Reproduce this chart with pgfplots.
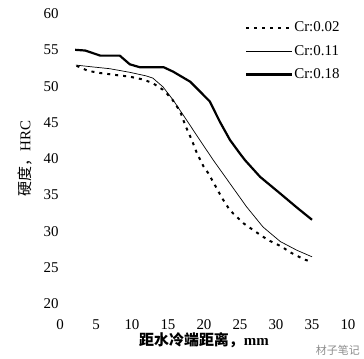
\documentclass[border=0pt]{standalone}
\usepackage{fontspec}
\setmainfont{Liberation Serif}
\newfontfamily\cjk{Noto Sans CJK SC}
\usepackage{pgfplots}
\pgfplotsset{compat=1.18}
\begin{document}
\begin{tikzpicture}
\begin{axis}[
  scale only axis, width=288bp, height=290.5bp,
  xmin=0, xmax=40, ymin=20, ymax=60,
  axis line style={draw=none},
  major tick length=0pt,
  xtick={0,5,10,15,20,25,30,35,40},
  xticklabels={0,5,10,15,20,25,30,35,10},
  ytick={20,25,30,35,40,45,50,55,60},
  /pgf/number format/assume math mode=true,
  tick label style={font=\fontsize{15}{15}\selectfont},
  xticklabel style={yshift=-12bp},
  yticklabel style={xshift=2bp},
  xlabel={{\cjk\bfseries 距水冷端距离，}\textbf{mm}},
  xlabel style={at={(axis description cs:0.5,-0.124)}, anchor=center, font=\fontsize{15}{15}\selectfont},
  ylabel={{\cjk 硬度，}HRC},
  ylabel style={at={(axis description cs:-0.122,0.5)}, anchor=center, font=\fontsize{15}{15}\selectfont},
  clip=false,
  legend style={at={(axis description cs:0.642,0.975)}, anchor=north west, draw=none, fill=none,
    inner sep=0pt, row sep=10bp, font=\fontsize{15}{15}\selectfont, nodes={inner sep=1bp}},
  legend cell align=left,
  legend image code/.code={\draw[#1] (0bp,0bp) -- (46bp,0bp);},
]
\addplot[black, line width=2bp, dash pattern=on 3bp off 5bp] coordinates {
(2.3,52.8) (3.9,52.1) (5.6,51.8) (8,51.5) (9.7,51.3) (11.6,50.9) (12.9,50.4) (14.3,49.5) (15.5,48.3) (16.7,46.5) (17.4,44.6) (18.3,42.6) (19,40.8) (19.9,39.0) (20.6,38.0) (21.5,36.4) (22.5,34.6) (23.6,32.9) (25.5,31.1) (27.1,30.0) (28.9,28.8) (30.6,28.0) (32.2,27.0) (34,26.1) (35,25.8)
};
\addlegendentry{Cr:0.02}
\addplot[black, line width=0.7bp] coordinates {
(2.2,52.9) (4,52.7) (6.9,52.4) (9.7,51.9) (12,51.4) (12.9,51.1) (14.3,49.9) (15.7,48.1) (17.6,45.3) (19.4,42.6) (21.3,39.8) (23.6,36.6) (25.9,33.4) (28.2,30.6) (30.6,28.6) (32.9,27.4) (35,26.5)
};
\addlegendentry{Cr:0.11}
\addplot[black, line width=2.2bp] coordinates {
(2.1,55.0) (3.5,54.9) (5.6,54.2) (8.3,54.2) (9.7,53.0) (11.1,52.6) (12,52.6) (14.4,52.6) (15.7,52.0) (18.1,50.6) (20.8,47.9) (22.2,45.1) (23.6,42.6) (25,40.7) (25.7,39.8) (27.8,37.5) (30.6,35.2) (33,33.2) (35,31.6)
};
\addlegendentry{Cr:0.18}
\node[anchor=center, text=black!45, font=\fontsize{11}{11}\selectfont\cjk] at (axis cs:38.6,13.6) {材子笔记};
\end{axis}
\pgfresetboundingbox
\path (-60bp,-55bp) rectangle (304bp,304bp);
\end{tikzpicture}
\end{document}
